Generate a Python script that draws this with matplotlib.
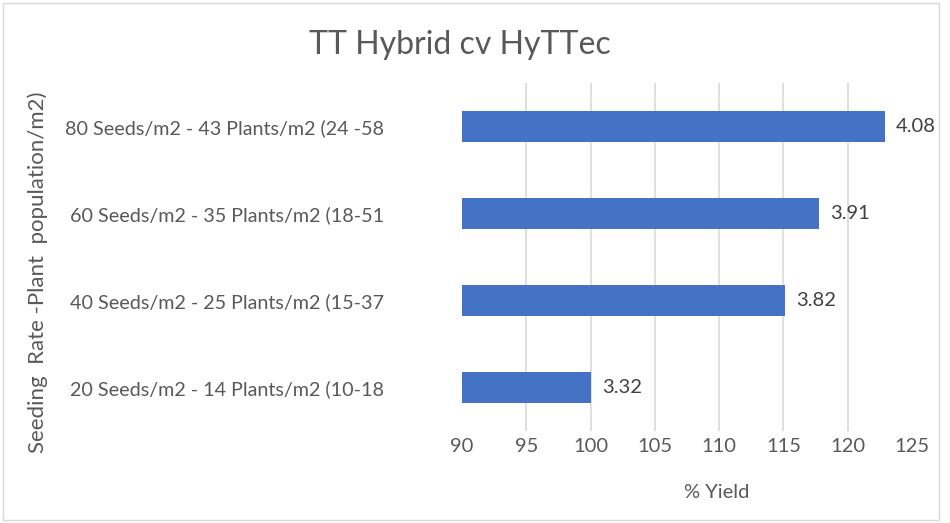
import matplotlib.pyplot as plt
from matplotlib.patches import Rectangle

plt.rcParams['font.family'] = ['Lato', 'DejaVu Sans']

categories = ['20 Seeds/m2 - 14 Plants/m2 (10-18',
              '40 Seeds/m2 - 25 Plants/m2 (15-37',
              '60 Seeds/m2 - 35 Plants/m2 (18-51',
              '80 Seeds/m2 - 43 Plants/m2 (24 -58']
pct_yield = [100.0, 115.1, 117.8, 122.9]
yield_labels = ['3.32', '3.82', '3.91', '4.08']
x_ticks = [90, 95, 100, 105, 110, 115, 120, 125]

txt = '#595959'

fig = plt.figure(figsize=(9.5, 5.23), dpi=100)
fig.patches.append(Rectangle((0.003, 0.005), 0.985, 0.99, transform=fig.transFigure,
                             fill=False, edgecolor='#d9d9d9', linewidth=1))
ax = fig.add_axes([462 / 950, 1 - 431 / 523, 450 / 950, 348 / 523])

y = range(len(categories))
ax.barh(y, [v - 90 for v in pct_yield], left=90, height=0.36, color='#4472c4', zorder=3)
for i, (v, lab) in enumerate(zip(pct_yield, yield_labels)):
    ax.annotate(lab, (v, i), xytext=(8, 0), textcoords='offset points',
                va='center', ha='left', fontsize=14.5, color='#404040')

ax.set_xlim(90, 125)
ax.set_ylim(-0.5, 3.5)
ax.set_xticks(x_ticks)
ax.set_yticks(list(y))
ax.set_yticklabels(categories)
ax.tick_params(axis='y', length=0, pad=56, labelsize=14.2, labelcolor=txt)
ax.tick_params(axis='x', length=0, pad=5, labelsize=14.5, labelcolor=txt)
ax.grid(axis='x', color='#d9d9d9', linewidth=1.2, zorder=0)
gl = ax.xaxis.get_gridlines()
gl[0].set_visible(False)
gl[-1].set_visible(False)
for s in ax.spines.values():
    s.set_visible(False)

ax.set_xlabel('% Yield', fontsize=14.5, color=txt)
ax.xaxis.set_label_coords(717 / 950, 1 - 493 / 523, transform=fig.transFigure)
ax.xaxis.label.set_va('center')

fig.text(38 / 950, 1 - 272 / 523, 'Seeding  Rate -Plant  population/m2)', rotation=90,
         ha='center', va='center', fontsize=16, color=txt)
fig.text(460 / 950, 1 - 45 / 523, 'TT Hybrid cv HyTTec', ha='center', va='center',
         fontsize=23, color=txt)

fig.savefig('out.png', dpi=100)
